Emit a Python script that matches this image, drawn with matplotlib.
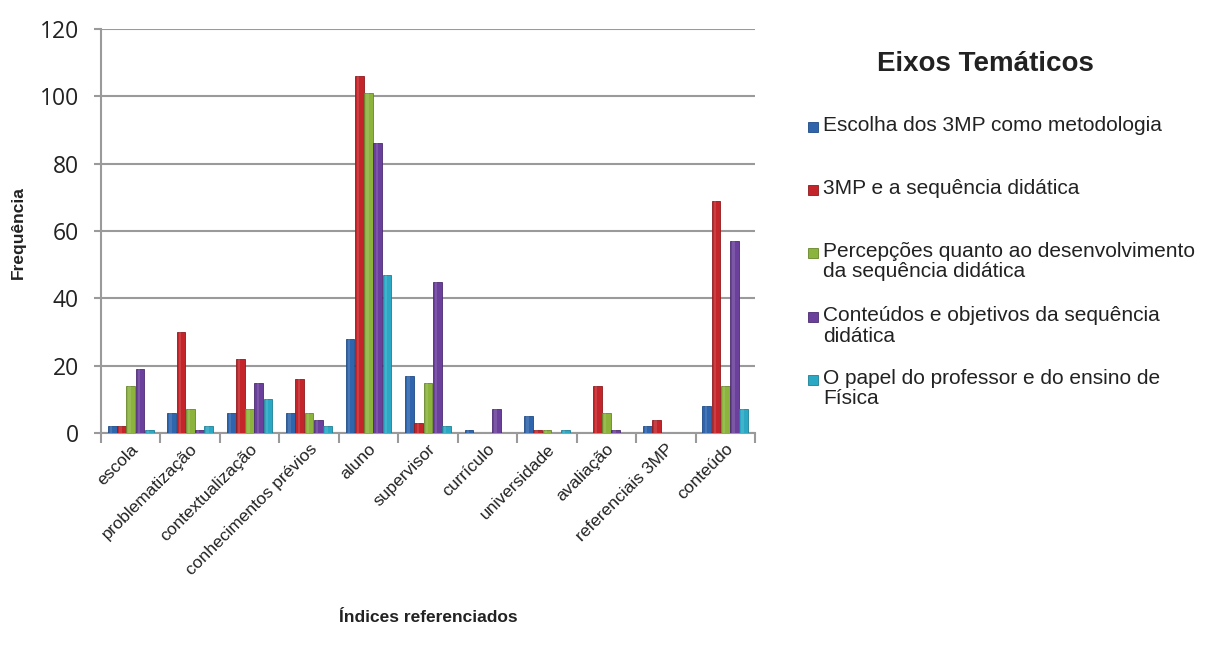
import matplotlib
matplotlib.use("Agg")
import matplotlib.pyplot as plt
import numpy as np
from matplotlib.patches import Rectangle

categories = ["escola", "problematização", "contextualização", "conhecimentos prévios",
              "aluno", "supervisor", "currículo", "universidade", "avaliação",
              "referenciais 3MP", "conteúdo"]

series_names = ["Escolha dos 3MP como metodologia",
                "3MP e a sequência didática",
                "Percepções quanto ao desenvolvimento\nda sequência didática",
                "Conteúdos e objetivos da sequência\ndidática",
                "O papel do professor e do ensino de\nFísica"]

escolha = [2, 6, 6, 6, 28, 17, 1, 5, 0, 2, 8]
sequencia = [2, 30, 22, 16, 106, 3, 0, 1, 14, 4, 69]
percepcoes = [14, 7, 7, 6, 101, 15, 0, 1, 6, 0, 14]
conteudos = [19, 1, 15, 4, 86, 45, 7, 0, 1, 0, 57]
papel = [1, 2, 10, 2, 47, 2, 0, 1, 0, 0, 7]

series = [escolha, sequencia, percepcoes, conteudos, papel]
colors = ["#2F65AD", "#C3252B", "#8CB43D", "#6B409C", "#2BA8C4"]
edges = ["#1F4A85", "#8E1A1E", "#66852A", "#4B2B70", "#1D7F95"]

y_ticks = [0, 20, 40, 60, 80, 100, 120]

plt.rcParams["font.family"] = ["Liberation Sans", "DejaVu Sans"]

fig = plt.figure(figsize=(12.06, 6.5), dpi=100)
ax = fig.add_axes([101 / 1206, 1 - 433 / 650, 654 / 1206, 404 / 650])

x = np.arange(len(categories))
bw = 0.155
for i, (vals, c, ec) in enumerate(zip(series, colors, edges)):
    pos = x + (i - 2) * bw
    ax.bar(pos, vals, width=bw * 0.95, color=c, edgecolor=ec, linewidth=0.6, zorder=3)
    # soft highlight stripe for a glossy look
    ax.bar(pos - bw * 0.12, vals, width=bw * 0.25, color="white", alpha=0.12,
           linewidth=0, zorder=4)

ax.set_xlim(-0.5, len(categories) - 0.5)
ax.set_ylim(0, 120)
ax.set_yticks(y_ticks)
ax.set_yticklabels([str(v) for v in y_ticks], fontsize=16.5,
                   family=["Open Sans", "Liberation Sans", "DejaVu Sans"], color="#222222")
ax.yaxis.grid(True, color="#9A9A9A", linewidth=1.5, zorder=0)
ax.set_axisbelow(True)

ax.set_xticks(x)
ax.set_xticklabels(categories, rotation=45, ha="right", rotation_mode="anchor",
                   fontsize=12.5, color="#222222")
ax.tick_params(axis="x", length=0, pad=6)
ax.set_xticks(np.arange(-0.5, len(categories), 1.0), minor=True)
ax.tick_params(axis="x", which="minor", length=7, width=1.5, color="#9A9A9A")
ax.tick_params(axis="y", length=5, width=1.5, color="#9A9A9A", pad=11)

for s in ["top", "right"]:
    ax.spines[s].set_visible(False)
for s in ["left", "bottom"]:
    ax.spines[s].set_color("#9A9A9A")
    ax.spines[s].set_linewidth(1.5)

fig.text(18 / 1206, 1 - 233 / 650, "Frequência", rotation=90, ha="center", va="center",
         fontsize=12.5, fontweight="bold", color="#222222")
fig.text(428 / 1206, 1 - 618 / 650, "Índices referenciados", ha="center", va="center",
         fontsize=12.5, fontweight="bold", color="#222222")

# legend
fig.text(985 / 1206, 1 - 64 / 650, "Eixos Temáticos", ha="center", va="center",
         fontsize=20, fontweight="bold", color="#222222")
entry_y = [127, 190, 253, 317, 380]
for name, c, ec, yy in zip(series_names, colors, edges, entry_y):
    fig.add_artist(Rectangle((808 / 1206, 1 - (yy + 5) / 650), 10 / 1206, 10 / 650,
                             facecolor=c, edgecolor=ec, linewidth=0.6,
                             transform=fig.transFigure))
    fig.text(823 / 1206, 1 - (yy - 11) / 650, name, ha="left", va="top",
             fontsize=15, color="#222222", linespacing=1.1)

fig.savefig("out.png", dpi=100, facecolor="white")
